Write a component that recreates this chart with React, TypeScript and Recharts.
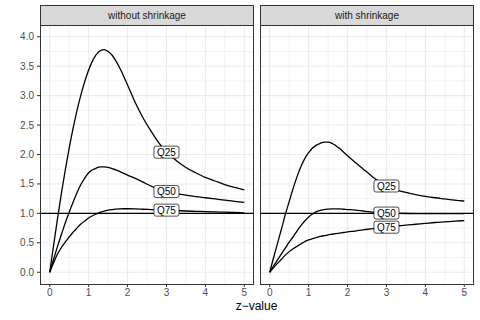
import React from "react";
import { LineChart, Line, XAxis, YAxis, ReferenceLine } from "recharts";

// z grid shared by all curves
const zValues = [0, 0.1, 0.2, 0.3, 0.4, 0.5, 0.6, 0.7, 0.8, 0.9, 1.0, 1.1, 1.2, 1.3, 1.4, 1.5, 1.6, 1.7, 1.8, 1.9, 2.0, 2.2, 2.4, 2.6, 2.8, 3.0, 3.25, 3.5, 3.75, 4.0, 4.25, 4.5, 4.75, 5.0];

// without shrinkage
const noShrinkQ25 = [0, 0.46, 0.91, 1.34, 1.74, 2.11, 2.445, 2.745, 3.01, 3.24, 3.435, 3.59, 3.7, 3.765, 3.78, 3.75, 3.69, 3.59, 3.47, 3.33, 3.18, 2.88, 2.62, 2.4, 2.2, 2.04, 1.9, 1.78, 1.69, 1.61, 1.55, 1.49, 1.44, 1.4];
const noShrinkQ50 = [0, 0.22, 0.44, 0.64, 0.84, 1.02, 1.19, 1.35, 1.49, 1.6, 1.69, 1.74, 1.77, 1.79, 1.79, 1.78, 1.76, 1.74, 1.71, 1.68, 1.65, 1.595, 1.53, 1.465, 1.41, 1.37, 1.335, 1.31, 1.285, 1.265, 1.245, 1.225, 1.205, 1.185];
const noShrinkQ75 = [0, 0.16, 0.31, 0.42, 0.51, 0.6, 0.68, 0.75, 0.82, 0.87, 0.92, 0.96, 0.99, 1.02, 1.04, 1.055, 1.065, 1.072, 1.076, 1.078, 1.078, 1.076, 1.07, 1.065, 1.06, 1.055, 1.048, 1.04, 1.035, 1.03, 1.025, 1.02, 1.015, 1.01];

// with shrinkage
const shrinkQ25 = [0, 0.25, 0.49, 0.73, 0.98, 1.2, 1.42, 1.62, 1.79, 1.93, 2.03, 2.11, 2.16, 2.19, 2.21, 2.21, 2.19, 2.15, 2.1, 2.04, 1.98, 1.865, 1.755, 1.645, 1.545, 1.465, 1.4, 1.355, 1.32, 1.29, 1.265, 1.245, 1.225, 1.21];
const shrinkQ50 = [0, 0.11, 0.21, 0.31, 0.41, 0.51, 0.6, 0.7, 0.79, 0.87, 0.94, 0.99, 1.03, 1.05, 1.065, 1.072, 1.076, 1.077, 1.075, 1.07, 1.065, 1.055, 1.04, 1.025, 1.012, 1.005, 1.0, 0.998, 0.997, 0.996, 0.996, 0.995, 0.995, 0.995];
const shrinkQ75 = [0, 0.08, 0.15, 0.22, 0.29, 0.35, 0.4, 0.44, 0.48, 0.52, 0.55, 0.57, 0.59, 0.61, 0.62, 0.635, 0.645, 0.655, 0.665, 0.675, 0.685, 0.7, 0.72, 0.735, 0.75, 0.765, 0.78, 0.8, 0.815, 0.83, 0.845, 0.855, 0.867, 0.878];

const labelAt = 3;
const xTicks = [0, 1, 2, 3, 4, 5];
const xMinor = [0.5, 1.5, 2.5, 3.5, 4.5];
const yTicks = [0, 0.5, 1, 1.5, 2, 2.5, 3, 3.5, 4];
const yMinor = [0.25, 0.75, 1.25, 1.75, 2.25, 2.75, 3.25, 3.75];

const FONT = "'Liberation Sans', Arial, sans-serif";
const GRID = "#EBEBEB";

function toRows(q25: number[], q50: number[], q75: number[]) {
  return zValues.map((z, i) => ({ z, q25: q25[i], q50: q50[i], q75: q75[i] }));
}

function labelDot(name: string) {
  return (props: any) => {
    const { cx, cy, payload, index } = props;
    if (payload.z !== labelAt) return <g key={`d-${name}-${index}`} />;
    return (
      <g key={`d-${name}-${index}`}>
        <rect x={cx - 12.5} y={cy - 6} width={25} height={12} rx={2} fill="#fff" stroke="#000" strokeWidth={0.7} />
        <text x={cx} y={cy + 3.6} textAnchor="middle" fontSize={10} fontFamily={FONT} fill="#000">{name}</text>
      </g>
    );
  };
}

function Panel({ title, rows, left, showY }: { title: string; rows: any[]; left: number; showY: boolean }) {
  const yw = showY ? 40 : 0;
  return (
    <>
      <div style={{
        position: "absolute", left, top: 5, width: 214, height: 21, boxSizing: "border-box",
        background: "#D9D9D9", border: "1px solid #333", fontSize: 10, lineHeight: "19px",
        textAlign: "center", color: "#1A1A1A", fontFamily: FONT,
      }}>{title}</div>
      <div style={{ position: "absolute", left: left - yw, top: 25 }}>
        <LineChart width={214 + yw} height={279} data={rows} margin={{ top: 0, right: 0, bottom: 0, left: 0 }}>
          <XAxis
            dataKey="z" type="number" domain={[-0.25, 5.25]} ticks={xTicks} allowDataOverflow
            axisLine={false} tickLine={{ stroke: "#333" }} tickSize={3} tickMargin={2} height={20}
            tick={{ fontSize: 10, fill: "#4D4D4D", fontFamily: FONT }}
          />
          <YAxis
            type="number" domain={[-0.2, 4.2]} ticks={yTicks} allowDataOverflow width={yw} hide={!showY}
            axisLine={false} tickLine={{ stroke: "#333" }} tickSize={3} tickMargin={3}
            tickFormatter={(v: number) => v.toFixed(1)}
            tick={{ fontSize: 10, fill: "#4D4D4D", fontFamily: FONT }}
          />
          {yMinor.map((v) => <ReferenceLine key={`ym${v}`} y={v} stroke={GRID} strokeWidth={0.6} />)}
          {xMinor.map((v) => <ReferenceLine key={`xm${v}`} x={v} stroke={GRID} strokeWidth={0.6} />)}
          {yTicks.map((v) => <ReferenceLine key={`yM${v}`} y={v} stroke={GRID} strokeWidth={1.1} />)}
          {xTicks.map((v) => <ReferenceLine key={`xM${v}`} x={v} stroke={GRID} strokeWidth={1.1} />)}
          <ReferenceLine y={1} stroke="#000" strokeWidth={1.2} />
          <Line dataKey="q25" type="monotone" stroke="#000" strokeWidth={1.3} dot={labelDot("Q25")} activeDot={false} isAnimationActive={false} />
          <Line dataKey="q50" type="monotone" stroke="#000" strokeWidth={1.3} dot={labelDot("Q50")} activeDot={false} isAnimationActive={false} />
          <Line dataKey="q75" type="monotone" stroke="#000" strokeWidth={1.3} dot={labelDot("Q75")} activeDot={false} isAnimationActive={false} />
        </LineChart>
      </div>
      <div style={{
        position: "absolute", left, top: 25, width: 214, height: 260, boxSizing: "border-box",
        border: "1px solid #333", pointerEvents: "none",
      }} />
    </>
  );
}

export default function App() {
  return (
    <div style={{ position: "absolute", left: 0, top: 0, width: 480, height: 320, background: "#fff", fontFamily: FONT }}>
      <Panel title="without shrinkage" rows={toRows(noShrinkQ25, noShrinkQ50, noShrinkQ75)} left={40} showY />
      <Panel title="with shrinkage" rows={toRows(shrinkQ25, shrinkQ50, shrinkQ75)} left={260} showY={false} />
      <div style={{ position: "absolute", left: 40, width: 433, top: 299, textAlign: "center", fontSize: 12, color: "#000" }}>
        z−value
      </div>
    </div>
  );
}
